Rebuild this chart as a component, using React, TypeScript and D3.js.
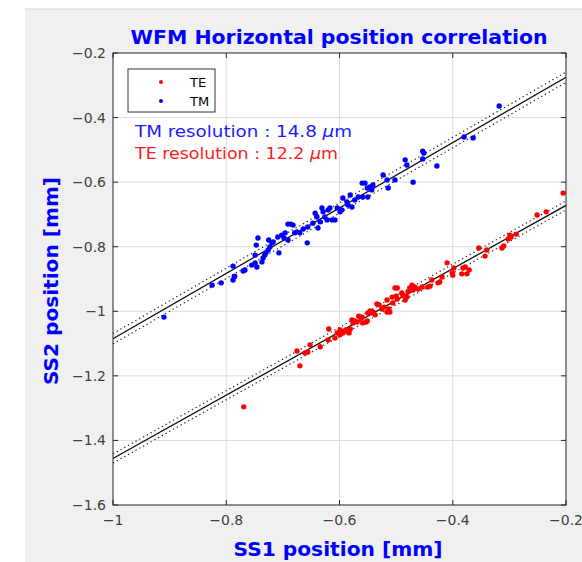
import React from "react";
import * as d3 from "d3";

const xTicks = [-1, -0.8, -0.6, -0.4, -0.2];
const yTicks = [-0.2, -0.4, -0.6, -0.8, -1, -1.2, -1.4, -1.6];

const tmX = [-0.910,-0.825,-0.809,-0.788,-0.786,-0.785,-0.788,-0.770,-0.767,-0.755,-0.749,-0.746,-0.749,-0.747,-0.744,-0.737,-0.735,-0.732,-0.730,-0.726,-0.723,-0.719,-0.725,-0.717,-0.709,-0.707,-0.702,-0.698,-0.696,-0.691,-0.686,-0.682,-0.691,-0.679,-0.675,-0.670,-0.657,-0.656,-0.647,-0.643,-0.640,-0.638,-0.664,-0.634,-0.631,-0.629,-0.626,-0.622,-0.620,-0.617,-0.613,-0.608,-0.604,-0.599,-0.596,-0.594,-0.587,-0.585,-0.581,-0.578,-0.573,-0.567,-0.560,-0.555,-0.551,-0.546,-0.543,-0.541,-0.559,-0.550,-0.523,-0.516,-0.514,-0.502,-0.484,-0.481,-0.470,-0.453,-0.451,-0.453,-0.428,-0.380,-0.364,-0.318];
const tmY = [-1.018,-0.919,-0.912,-0.903,-0.894,-0.891,-0.860,-0.875,-0.872,-0.857,-0.850,-0.863,-0.826,-0.795,-0.773,-0.847,-0.835,-0.826,-0.819,-0.810,-0.801,-0.788,-0.779,-0.785,-0.770,-0.819,-0.764,-0.773,-0.757,-0.730,-0.730,-0.733,-0.779,-0.757,-0.754,-0.757,-0.788,-0.739,-0.727,-0.696,-0.708,-0.742,-0.745,-0.723,-0.680,-0.692,-0.708,-0.717,-0.686,-0.680,-0.717,-0.717,-0.680,-0.692,-0.686,-0.649,-0.661,-0.671,-0.640,-0.677,-0.655,-0.646,-0.603,-0.603,-0.618,-0.615,-0.624,-0.609,-0.646,-0.646,-0.578,-0.593,-0.618,-0.593,-0.531,-0.547,-0.600,-0.504,-0.510,-0.528,-0.550,-0.460,-0.463,-0.364];

const teX = [-0.769,-0.675,-0.670,-0.661,-0.656,-0.652,-0.634,-0.619,-0.620,-0.608,-0.604,-0.599,-0.596,-0.594,-0.589,-0.585,-0.581,-0.599,-0.583,-0.578,-0.576,-0.573,-0.569,-0.566,-0.562,-0.560,-0.559,-0.553,-0.550,-0.546,-0.543,-0.541,-0.537,-0.551,-0.534,-0.530,-0.525,-0.521,-0.516,-0.513,-0.507,-0.506,-0.500,-0.498,-0.516,-0.511,-0.502,-0.498,-0.490,-0.488,-0.484,-0.481,-0.479,-0.476,-0.472,-0.470,-0.467,-0.461,-0.454,-0.444,-0.437,-0.440,-0.426,-0.423,-0.419,-0.410,-0.401,-0.400,-0.398,-0.384,-0.382,-0.375,-0.371,-0.354,-0.343,-0.340,-0.313,-0.310,-0.302,-0.299,-0.288,-0.251,-0.235,-0.205,-0.297,-0.378];
const teY = [-1.296,-1.123,-1.169,-1.129,-1.126,-1.104,-1.110,-1.055,-1.089,-1.083,-1.067,-1.058,-1.064,-1.067,-1.058,-1.064,-1.055,-1.073,-1.067,-1.027,-1.036,-1.030,-1.033,-1.015,-1.021,-1.018,-1.036,-1.033,-1.005,-0.999,-1.005,-1.002,-1.011,-1.030,-0.977,-0.980,-0.993,-0.987,-0.965,-0.993,-0.956,-0.974,-0.953,-0.962,-1.002,-1.002,-0.928,-0.928,-0.943,-0.950,-0.965,-0.956,-0.940,-0.928,-0.919,-0.934,-0.925,-0.931,-0.925,-0.925,-0.903,-0.922,-0.912,-0.909,-0.894,-0.850,-0.881,-0.888,-0.866,-0.884,-0.866,-0.884,-0.872,-0.804,-0.829,-0.810,-0.804,-0.798,-0.776,-0.764,-0.761,-0.702,-0.692,-0.634,-0.770,-0.863];

// fitted lines: [y at x=-1, y at x=-0.2], band half-width
const tmFit = [-1.085, -0.275];
const teFit = [-1.456, -0.672];
const tmBand = 0.016;
const teBand = 0.014;

const FONT = "'DejaVu Sans', sans-serif";
const W = 582, H = 562;
const L = 113, R = 566, T = 53, B = 505;

const fmt = (v: number) => (v < 0 ? "\u2212" : "") + String(Math.abs(v));

export default function App() {
  const x = d3.scaleLinear().domain([-1, -0.2]).range([L, R]);
  const y = d3.scaleLinear().domain([-1.6, -0.2]).range([B, T]);
  const line = d3.line<[number, number]>().x(d => x(d[0])).y(d => y(d[1]));
  const fitLine = (f: number[], off: number) =>
    line([[-1, f[0] + off], [-0.2, f[1] + off]]) || "";
  const axisColor = "#262626";
  const tickLen = 5;

  return (
    <svg width={W} height={H} style={{ position: "absolute", left: 0, top: 0 }}>
      <rect x={0} y={0} width={W} height={H} fill="#ffffff" />
      <rect x={25} y={9} width={W - 25} height={H - 9} fill="#f0f0f0" />
      <line x1={25} x2={W} y1={9} y2={9} stroke="#d4d4d4" />
      <rect x={L} y={T} width={R - L} height={B - T} fill="#ffffff" />
      <defs>
        <clipPath id="plotclip">
          <rect x={L} y={T} width={R - L} height={B - T} />
        </clipPath>
      </defs>
      {xTicks.slice(1, -1).map(t => (
        <line key={"gx" + t} x1={x(t)} x2={x(t)} y1={T} y2={B} stroke="#dcdcdc" strokeWidth={1} />
      ))}
      {yTicks.slice(1, -1).map(t => (
        <line key={"gy" + t} x1={L} x2={R} y1={y(t)} y2={y(t)} stroke="#dcdcdc" strokeWidth={1} />
      ))}
      <g clipPath="url(#plotclip)">
        {[
          [tmFit, tmBand],
          [teFit, teBand],
        ].map(([f, b], i) => (
          <g key={"fit" + i}>
            <path d={fitLine(f as number[], 0)} stroke="#111" strokeWidth={1.3} fill="none" />
            <path d={fitLine(f as number[], b as number)} stroke="#222" strokeWidth={1.2} strokeDasharray="1.3,3" fill="none" />
            <path d={fitLine(f as number[], -(b as number))} stroke="#222" strokeWidth={1.2} strokeDasharray="1.3,3" fill="none" />
          </g>
        ))}
        {teX.map((v, i) => (
          <circle key={"te" + i} cx={x(v)} cy={y(teY[i])} r={2.7} fill="#ff0000" />
        ))}
        {tmX.map((v, i) => (
          <circle key={"tm" + i} cx={x(v)} cy={y(tmY[i])} r={2.7} fill="#0000ff" />
        ))}
      </g>
      <rect x={L} y={T} width={R - L} height={B - T} fill="none" stroke={axisColor} strokeWidth={1} />
      {xTicks.map(t => (
        <g key={"xt" + t}>
          <line x1={x(t)} x2={x(t)} y1={B} y2={B - tickLen} stroke={axisColor} />
          <line x1={x(t)} x2={x(t)} y1={T} y2={T + tickLen} stroke={axisColor} />
          <text x={x(t)} y={525} textAnchor="middle" fontFamily={FONT} fontSize={14} fill="#404040">
            {fmt(t)}
          </text>
        </g>
      ))}
      {yTicks.map(t => (
        <g key={"yt" + t}>
          <line x1={L} x2={L + tickLen} y1={y(t)} y2={y(t)} stroke={axisColor} />
          <line x1={R} x2={R - tickLen} y1={y(t)} y2={y(t)} stroke={axisColor} />
          <text x={106} y={y(t) + 5} textAnchor="end" fontFamily={FONT} fontSize={14} fill="#404040">
            {fmt(t)}
          </text>
        </g>
      ))}
      <text x={339} y={44} textAnchor="middle" fontFamily={FONT} fontWeight="bold" fontSize={19} fill="#0000ff" textLength={417} lengthAdjust="spacingAndGlyphs">
        WFM Horizontal position correlation
      </text>
      <text x={338} y={556} textAnchor="middle" fontFamily={FONT} fontWeight="bold" fontSize={19} fill="#0000ff" textLength={209} lengthAdjust="spacingAndGlyphs">
        SS1 position [mm]
      </text>
      <text transform={`translate(58,281) rotate(-90)`} textAnchor="middle" fontFamily={FONT} fontWeight="bold" fontSize={19} fill="#0000ff" textLength={208} lengthAdjust="spacingAndGlyphs">
        SS2 position [mm]
      </text>
      <rect x={128} y={69} width={87} height={43} fill="#ffffff" stroke="#333" strokeWidth={1} />
      <circle cx={161} cy={82} r={2} fill="#ff0000" />
      <circle cx={161} cy={101} r={2} fill="#0000ff" />
      <text x={190} y={87} fontFamily={FONT} fontSize={13} fill="#000">TE</text>
      <text x={190} y={106} fontFamily={FONT} fontSize={13} fill="#000">TM</text>
      <text x={135} y={137} fontFamily={FONT} fontSize={16.5} fill="#1a1aff" textLength={217} lengthAdjust="spacingAndGlyphs">
        TM resolution : 14.8 <tspan fontStyle="italic">μ</tspan>m
      </text>
      <text x={135} y={159} fontFamily={FONT} fontSize={16.5} fill="#ff1a1a" textLength={203} lengthAdjust="spacingAndGlyphs">
        TE resolution : 12.2 <tspan fontStyle="italic">μ</tspan>m
      </text>
    </svg>
  );
}
